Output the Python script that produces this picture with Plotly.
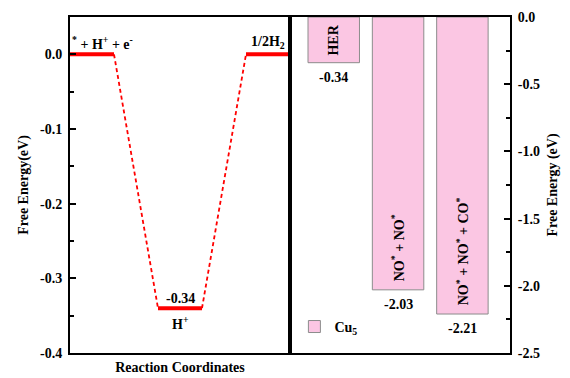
import plotly.graph_objects as go

# ---- data ----
step_names = ["<sup>*</sup> + H<sup>+</sup> + e<sup>-</sup>", "H<sup>+</sup>", "1/2H<sub>2</sub>"]
step_energies = [0.0, -0.34, 0.0]

bar_positions = [1, 2, 3]
bar_labels = ["HER", "NO<sup>*</sup> + NO<sup>*</sup>", "NO<sup>*</sup> + NO<sup>*</sup> + CO<sup>*</sup>"]
bar_values = [-0.34, -2.03, -2.21]
bar_label_y = [-0.17, -1.72, -1.74]
series_name = "Cu<sub>5</sub>"

left_ticks = [0.0, -0.1, -0.2, -0.3, -0.4]
left_ticktext = ["0.0", "-0.1", "-0.2", "-0.3", "-0.4"]
right_ticks = [0.0, -0.5, -1.0, -1.5, -2.0, -2.5]
right_ticktext = ["0.0", "-0.5", "-1.0", "-1.5", "-2.0", "-2.5"]

FONT = "Liberation Serif, Times New Roman, serif"
RED = "#ff0000"
PINK = "#fbc6e3"
FS = 14

fig = go.Figure()

# energy levels
for i, e in enumerate(step_energies):
    fig.add_trace(go.Scatter(x=[2 * i, 2 * i + 1], y=[e, e], mode="lines",
                             line=dict(color=RED, width=4), showlegend=False,
                             hoverinfo="skip", xaxis="x", yaxis="y"))
# dashed connectors
for i in range(len(step_energies) - 1):
    fig.add_trace(go.Scatter(x=[2 * i + 1, 2 * i + 2], y=[step_energies[i], step_energies[i + 1]],
                             mode="lines", line=dict(color=RED, width=1.8, dash="4px,3px"),
                             showlegend=False, hoverinfo="skip", xaxis="x", yaxis="y"))

# bars
fig.add_trace(go.Bar(x=bar_positions, y=bar_values, width=0.8, name=series_name,
                     marker=dict(color=PINK, line=dict(color="#8c8c8c", width=1)),
                     xaxis="x2", yaxis="y2", showlegend=True))

tf = dict(family=FONT, size=FS, color="black", weight="bold")
annots = []
annots.append(dict(x=0, y=step_energies[0], xref="x", yref="y", text=step_names[0],
                   showarrow=False, xanchor="left", xshift=0, yanchor="bottom", yshift=0, font=tf))
annots.append(dict(x=4.5, y=step_energies[2], xref="x", yref="y", text=step_names[2],
                   showarrow=False, yanchor="bottom", yshift=1, font=tf))
annots.append(dict(x=2.5, y=step_energies[1], xref="x", yref="y", text="%.2f" % step_energies[1],
                   showarrow=False, yanchor="bottom", yshift=0, font=tf))
annots.append(dict(x=2.5, y=step_energies[1], xref="x", yref="y", text=step_names[1],
                   showarrow=False, yanchor="top", yshift=-4, font=tf))
for xp, lab, ly, v in zip(bar_positions, bar_labels, bar_label_y, bar_values):
    annots.append(dict(x=xp, y=ly, xref="x2", yref="y2", text=lab,
                       textangle=-90, showarrow=False, font=tf))
    annots.append(dict(x=xp, y=v, xref="x2", yref="y2", text="%.2f" % v,
                       showarrow=False, yanchor="top", yshift=-5, font=tf))

axis_common = dict(showline=True, linecolor="black", linewidth=2, mirror=True,
                   showgrid=False, zeroline=False, automargin=False)
tickfont = dict(family=FONT, size=FS, color="black", weight="bold")

fig.update_layout(
    width=562, height=370,
    margin=dict(l=62, r=60, t=9, b=25),
    paper_bgcolor="white", plot_bgcolor="white",
    font=dict(family=FONT, size=FS, color="black"),
    xaxis=dict(domain=[0, 0.5], range=[0, 5], showticklabels=False, ticks="",
               title=dict(text="Reaction Coordinates", font=tf, standoff=8),
               **axis_common),
    yaxis=dict(range=[-0.4, 0.05], tickvals=left_ticks, ticktext=left_ticktext,
               tickfont=tickfont,
               ticks="inside", ticklen=6, tickwidth=2, tickcolor="black",
               minor=dict(ticks="inside", dtick=0.05, ticklen=4, tickwidth=2, tickcolor="black"),
               ticklabelstandoff=3,
               title=dict(text="Free Energy(eV)", font=tf, standoff=8),
               **axis_common),
    xaxis2=dict(domain=[0.5, 1], range=[0.32, 3.74], showticklabels=False, ticks="",
                anchor="y2", **axis_common),
    yaxis2=dict(range=[-2.5, 0], anchor="x2", side="right", tickvals=right_ticks,
                ticktext=right_ticktext, tickfont=tickfont,
                ticks="inside", ticklen=6, tickwidth=2, tickcolor="black",
                minor=dict(ticks="inside", dtick=0.25, ticklen=4, tickwidth=2, tickcolor="black"),
                ticklabelstandoff=3,
                title=dict(text="Free Energy (eV)", font=tf, standoff=8),
                **axis_common),
    legend=dict(x=0.51, y=0.03, xanchor="left", yanchor="bottom", bgcolor="rgba(0,0,0,0)",
                font=tf, itemwidth=30),
    annotations=annots,
    showlegend=True,
)

fig.write_html("out.html")
